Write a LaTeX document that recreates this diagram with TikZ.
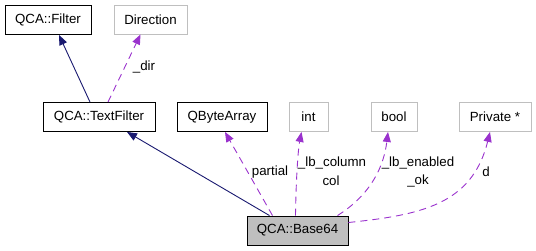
\documentclass[tikz,border=0pt]{standalone}
\usepackage{fontspec}
\setmainfont{Liberation Sans}
\usetikzlibrary{arrows.meta}
\definecolor{inhcol}{RGB}{25,25,112}
\definecolor{usecol}{RGB}{154,50,205}
\definecolor{boxgray}{RGB}{191,191,191}

\begin{document}
\begin{tikzpicture}[x=1pt,y=-1pt,
    cls/.style = {draw=black, line width=0.9pt, inner sep=0pt, minimum height=29pt,
                  font=\fontsize{13.3}{15}\selectfont},
    ext/.style = {cls, draw=boxgray},
    cur/.style = {cls, fill=boxgray},
    inh/.style = {draw=inhcol, line width=0.9pt, -{Triangle[length=10pt,width=8pt]}},
    use/.style = {draw=usecol, line width=0.9pt, dash pattern=on 7pt off 5pt,
                  -{Triangle[length=10pt,width=8pt]}},
    lbl/.style = {inner sep=0pt, font=\fontsize{13.3}{15}\selectfont}]
  \useasboundingbox (0,0) rectangle (536,251);

  % classes
  \node[cls, minimum width=86pt]  (filter)     at (48,20)      {QCA::Filter};
  \node[ext, minimum width=73pt]  (direction)  at (150.5,19.5) {Direction};
  \node[cls, minimum width=112pt] (textfilter) at (99,117)     {QCA::TextFilter};
  \node[cls, minimum width=90pt]  (qbytearray) at (222,117)    {QByteArray};
  \node[ext, minimum width=39pt]  (int)        at (308.5,117)  {int};
  \node[ext, minimum width=46pt]  (bool)       at (394,117)    {bool};
  \node[ext, minimum width=72pt]  (private)    at (495,117)    {Private *};
  \node[cur, minimum width=101pt] (base64)     at (297.5,230.5) {QCA::Base64};

  % inheritance
  \draw[inh] ([xshift=-9pt]textfilter.north) -- ([xshift=11pt]filter.south);
  \draw[inh] ([xshift=-28pt]base64.north) -- ([xshift=28pt]textfilter.south);

  % members
  \draw[use] ([xshift=9pt]textfilter.north) -- ([xshift=-10pt]direction.south);
  \node[lbl] (l-dir) at (144,67) {\_dir};

  \draw[use] ([xshift=-25pt]base64.north) -- ([xshift=3pt]qbytearray.south);
  \node[lbl] (l-partial) at (270,172) {partial};

  \draw[use] ([xshift=-2pt]base64.north) .. controls (296,180) and (298,150) .. ([xshift=-7pt]int.south);
  \node[lbl] (l-column) at (332,163) {\_lb\_column};
  \node[lbl] (l-col)    at (331,181) {col};

  \draw[use] ([xshift=40pt]base64.north) .. controls (372,194) and (384,165) .. ([xshift=-6pt]bool.south);
  \node[lbl] (l-enabled) at (418,163) {\_lb\_enabled};
  \node[lbl] (l-ok)      at (418,181) {\_ok};

  \draw[use] ([yshift=8pt]base64.east) .. controls (420,215) and (472,205) .. ([xshift=-5pt]private.south);
  \node[lbl] (l-d) at (486,172) {d};
\end{tikzpicture}
\end{document}
